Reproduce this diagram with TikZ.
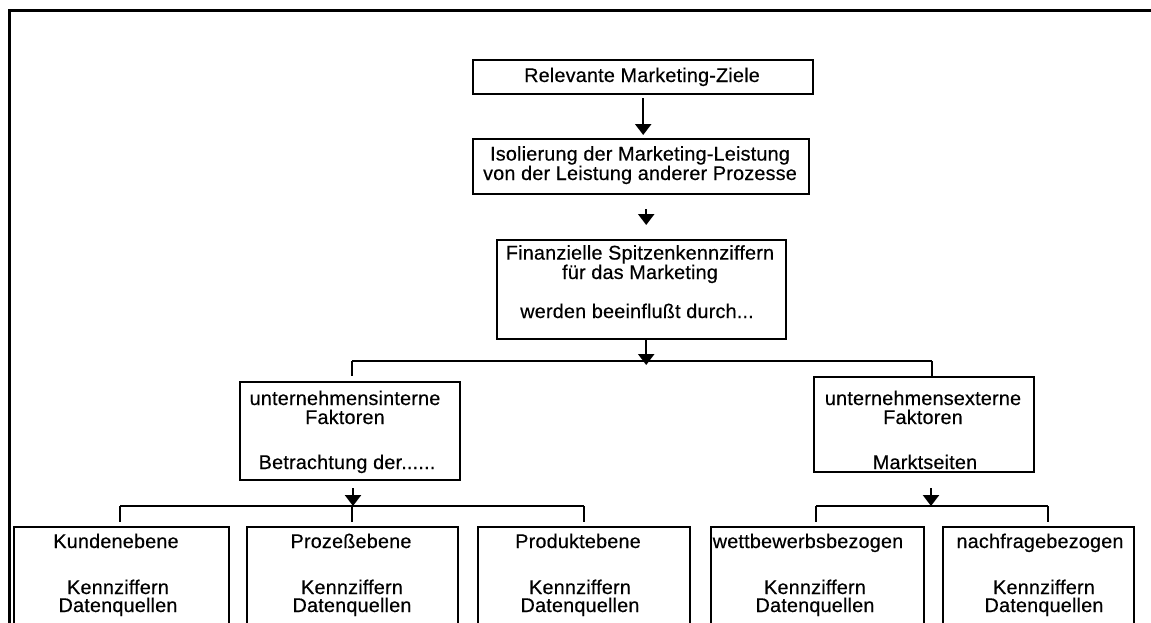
\documentclass[tikz,border=0pt]{standalone}
\usepackage{fontspec}
\setmainfont[LetterSpace=1, FakeBold=0.4]{Liberation Sans}
\usetikzlibrary{arrows.meta}
\begin{document}
\begin{tikzpicture}[x=1pt,y=-1pt,
  box/.style={draw, line width=2.4pt, inner sep=0pt, anchor=north west},
  txt/.style={anchor=base, inner sep=0pt, align=center, font=\fontsize{19.8}{17}\selectfont},
  link/.style={line width=2.4pt},
  arr/.style={line width=2.4pt, -{Triangle[width=16pt,length=11pt]}}]
\useasboundingbox (0,0) rectangle (1151,622);
\clip (0,0) rectangle (1151,622);
% outer frame
\draw[line width=3pt] (9,660) -- (9,10) -- (1170,10);

% boxes
\node[box, minimum width=340pt, minimum height=34pt] (b1) at (472,59) {};
\node[box, minimum width=336pt, minimum height=55pt] (b2) at (472,138) {};
\node[box, minimum width=289pt, minimum height=99pt] (b3) at (496,239) {};
\node[box, minimum width=220pt, minimum height=98pt] (b4) at (239,381) {};
\node[box, minimum width=220pt, minimum height=95pt] (b5) at (813,376) {};
\node[box, minimum width=215pt, minimum height=110pt] (k1) at (13,526) {};
\node[box, minimum width=211pt, minimum height=110pt] (k2) at (246,526) {};
\node[box, minimum width=212pt, minimum height=110pt] (k3) at (477,526) {};
\node[box, minimum width=213pt, minimum height=110pt] (k4) at (710,526) {};
\node[box, minimum width=191pt, minimum height=110pt] (k5) at (942,526) {};

% texts (multi-line nodes are placed by the baseline of their last line)
\node[txt] (b1a) at (642,82) {Relevante Marketing-Ziele};
\node[txt] (b2a) at (640,180) {Isolierung der Marketing-Leistung\\von der Leistung anderer Prozesse};
\node[txt] (b3a) at (640,279) {Finanzielle Spitzenkennziffern\\für das Marketing};
\node[txt] (b3c) at (637,318) {werden beeinflußt durch...};
\node[txt] (b4a) at (345,424) {unternehmensinterne\\[2pt]Faktoren};
\node[txt] (b4c) at (347,469) {Betrachtung der......};
\node[txt] (b5a) at (923,424) {unternehmensexterne\\[2pt]Faktoren};
\node[txt] (b5c) at (925,469) {Marktseiten};
\node[txt] (k1a) at (116,548) {Kundenebene};
\node[txt] (k1b) at (118,612) {Kennziffern\\[1pt]Datenquellen};
\node[txt] (k2a) at (351,548) {Prozeßebene};
\node[txt] (k2b) at (352,612) {Kennziffern\\[1pt]Datenquellen};
\node[txt] (k3a) at (578,548) {Produktebene};
\node[txt] (k3b) at (580,612) {Kennziffern\\[1pt]Datenquellen};
\node[txt] (k4a) at (808,548) {wettbewerbsbezogen};
\node[txt] (k4b) at (815,612) {Kennziffern\\[1pt]Datenquellen};
\node[txt] (k5a) at (1040,548) {nachfragebezogen};
\node[txt] (k5b) at (1044,612) {Kennziffern\\[1pt]Datenquellen};

% junction points of the branch lines
\coordinate (busL) at (352,361);
\coordinate (busR) at (932,361);
\coordinate (inM) at (353,506);
\coordinate (exM) at (931,506);

% main chain
\draw[arr, shorten <=3pt, shorten >=3pt] (b1.south) -- (b1.south |- b2.north);
\draw[arr, shorten <=14pt, shorten >=14pt] ([xshift=5pt]b2.south) -- ([xshift=5pt]b2.south |- b3.north);
\draw[arr] ([xshift=4.5pt]b3.south) -- ([xshift=4.5pt,yshift=-4pt]b3.south |- busL);

% first branching
\draw[link] (busL) -- (busR);
\draw[link, shorten >=5pt] (busL) -- (busL |- b4.north);
\draw[link] (busR) -- (busR |- b5.north);

% internal factors
\draw[arr, shorten <=7pt] (inM |- b4.south) -- (inM);
\draw[link] (120,506) -- (584,506);
\draw[link, shorten >=4pt] (120,506) -- (k1.north -| 120,0);
\draw[link, shorten >=4pt] (352,506) -- (k2.north -| 352,0);
\draw[link, shorten >=4pt] (584,506) -- (k3.north -| 584,0);

% external factors
\draw[arr, shorten <=15pt] (exM |- b5.south) -- (exM);
\draw[link] (816,506) -- (1048,506);
\draw[link, shorten >=4pt] (816,506) -- (k4.north -| 816,0);
\draw[link, shorten >=4pt] (1048,506) -- (k5.north -| 1048,0);
\end{tikzpicture}
\end{document}
